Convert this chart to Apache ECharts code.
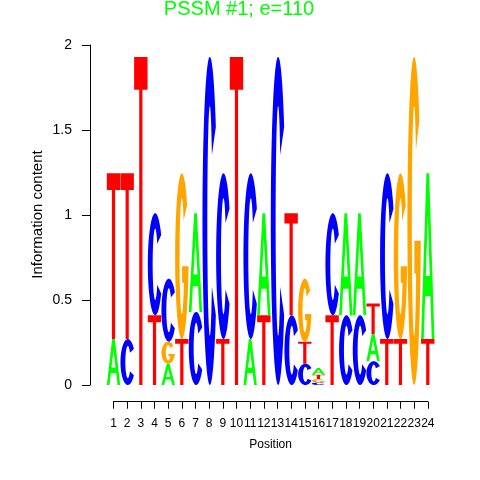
<!DOCTYPE html>
<html><head><meta charset="utf-8">
<script src="https://cdn.jsdelivr.net/npm/echarts@6/dist/echarts.min.js"></script>
<style>html,body{margin:0;padding:0;background:#fff}#c{width:480px;height:480px}</style>
</head><body><div id="c"></div>
<script>
// ---- data (information content per letter, per position) ----
const positions = [1,2,3,4,5,6,7,8,9,10,11,12,13,14,15,16,17,18,19,20,21,22,23,24];
const heightA = [0.27,0,0,0,0.125,0,0.58,0,0,0,0.27,0.60,0,0,0,0.04,0,0.60,0.60,0.16,0,0,0,0.975];
const heightC = [0,0.27,0,0.60,0.37,0,0.43,1.93,0.975,0,0.975,0,1.93,0.41,0.125,0.015,0.60,0.41,0.41,0.14,0.975,0,0,0];
const heightG = [0,0,0,0,0.13,0.975,0,0,0,0,0,0,0,0,0.37,0.02,0,0,0,0,0,0.975,1.93,0];
const heightT = [0.975,0.975,1.93,0.41,0,0.27,0,0,0.27,1.93,0,0.41,0,0.60,0.13,0.025,0.41,0,0,0.18,0.27,0.27,0,0.27];
const yTicks = [0, 0.5, 1, 1.5, 2];
const titleText = 'PSSM #1; e=110';
const yTitle = 'Information content';
const xTitle = 'Position';

// ---- glyph outlines (unit box 0..100) ----
function ell(cx, cy, rx, ry, a0, a1, n) {
  const pts = [];
  for (let i = 0; i <= n; i++) {
    const a = (a0 + (a1 - a0) * i / n) * Math.PI / 180;
    pts.push([cx + rx * Math.cos(a), cy - ry * Math.sin(a)]);
  }
  return pts;
}
function toPath(list) {
  return list.map(p => p.map((q, i) => (i ? 'L' : 'M') + q[0].toFixed(2) + ' ' + q[1].toFixed(2)).join(' ') + ' Z').join(' ');
}
const RXI = 17, RYI = 35;
const glyphA = toPath([
  [[0,100],[40,0],[60,0],[100,100],[80,100],[69.6,74],[30.4,74],[20,100]],
  [[35.2,62],[64.8,62],[50,25]]
]);
const glyphT = toPath([[[0,0],[100,0],[100,10],[62,10],[62,100],[38,100],[38,10],[0,10]]]);
const glyphC = toPath([ ell(50,50,50,50,35,325,60).concat(ell(50,50,RXI,RYI,325,35,60)) ]);
const gInnerA = -Math.asin(14/RYI) * 180 / Math.PI + 360;
const gInnerX = 50 + RXI * Math.cos((360 - gInnerA) * Math.PI / 180);
const glyphG = toPath([
  ell(50,50,50,50,38,345,60)
    .concat([[100,56],[52,56],[52,66],[gInnerX,66]])
    .concat(ell(50,50,RXI,RYI,gInnerA,38,60))
]);
const GLYPHS = [glyphA, glyphC, glyphG, glyphT];
const COLORS = ['#00ff00', '#0000ff', '#ffa500', '#ff0000'];

// ---- stacked letter items ----
const heights = [heightA, heightC, heightG, heightT];
const items = [];
positions.forEach((p, i) => {
  const col = [];
  heights.forEach((h, li) => { if (h[i] > 0) col.push([li, h[i]]); });
  col.sort((a, b) => a[1] - b[1]);
  let y = 0;
  col.forEach(([li, h]) => { items.push([p, y, y + h, li]); y += h; });
});

const FONT = 'Liberation Sans, Arial, Helvetica, sans-serif';
const chart = echarts.init(document.getElementById('c'), null, {renderer: 'canvas'});
chart.setOption({
  animation: false,
  backgroundColor: '#fff',
  grid: [
    {left: 106.67, width: 327.93, top: 45, height: 340},
    {left: 113.5, width: 314.3, top: 390, height: 11.7}
  ],
  xAxis: [
    {gridIndex: 0, type: 'value', min: 0.5, max: 24.5, show: false},
    {gridIndex: 1, type: 'value', min: 1, max: 24, interval: 1, position: 'bottom',
     axisLine: {show: true, lineStyle: {color: '#000', width: 1}},
     axisTick: {show: true, length: 7, lineStyle: {color: '#000'}},
     axisLabel: {show: true, margin: 16, color: '#000', fontSize: 12, fontFamily: FONT,
                 formatter: v => String(v)},
     splitLine: {show: false}}
  ],
  yAxis: [
    {gridIndex: 0, type: 'value', min: yTicks[0], max: yTicks[yTicks.length - 1], interval: 0.5,
     offset: 16.67,
     axisLine: {show: true, lineStyle: {color: '#000', width: 1}},
     axisTick: {show: true, length: 8, lineStyle: {color: '#000'}},
     axisLabel: {show: true, margin: 18, color: '#000', fontSize: 14, fontFamily: FONT},
     splitLine: {show: false}},
    {gridIndex: 1, type: 'value', show: false}
  ],
  graphic: [
    {type: 'text', x: 239, y: 9, style: {text: titleText, fill: '#00ff00', font: '20px ' + FONT,
      textAlign: 'center', textVerticalAlign: 'middle'}},
    {type: 'text', x: 38, y: 214.5, rotation: Math.PI / 2, style: {text: yTitle, fill: '#000',
      font: '15px ' + FONT, textAlign: 'center', textVerticalAlign: 'middle'}},
    {type: 'text', x: 270.6, y: 445, style: {text: xTitle, fill: '#000',
      font: '12px ' + FONT, textAlign: 'center', textVerticalAlign: 'middle'}}
  ],
  series: [{
    type: 'custom',
    xAxisIndex: 0, yAxisIndex: 0,
    data: items,
    renderItem: function (params, api) {
      const x = api.value(0), y0 = api.value(1), y1 = api.value(2), li = api.value(3);
      const p0 = api.coord([x - 0.49, y0]);
      const p1 = api.coord([x + 0.49, y1]);
      return {
        type: 'path',
        shape: {pathData: GLYPHS[li], x: p0[0], y: p1[1], width: p1[0] - p0[0],
                height: Math.max(0.3, p0[1] - p1[1]), layout: 'cover'},
        style: {fill: COLORS[li], stroke: null}
      };
    }
  }]
});
</script></body></html>
